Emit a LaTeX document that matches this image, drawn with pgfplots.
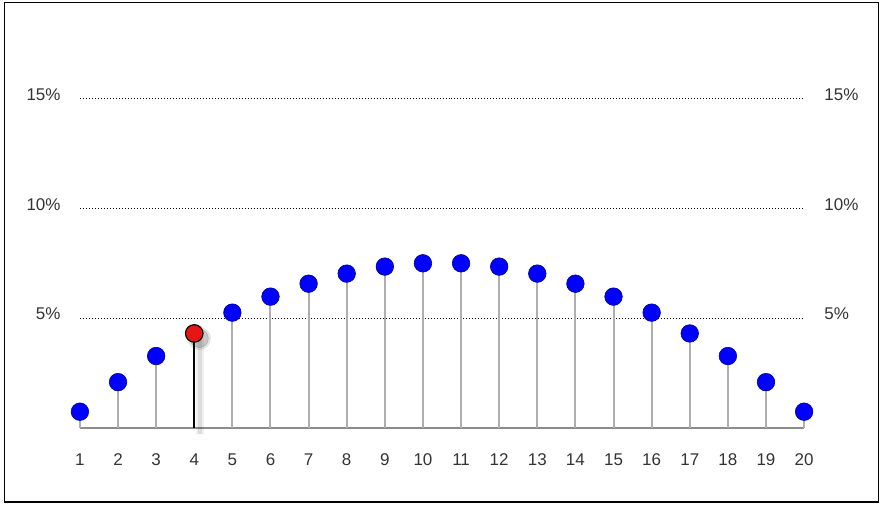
\documentclass[border=0pt]{standalone}
\usepackage{pgfplots}
\pgfplotsset{compat=1.18}
\usepackage{pgfplotstable}
\usepackage{fontspec}
\setmainfont{Liberation Sans}

\definecolor{stemgray}{HTML}{AEAEAE}
\definecolor{basegray}{HTML}{8C8C8C}
\definecolor{labelgray}{HTML}{333333}
\definecolor{dotblue}{HTML}{0000FF}
\definecolor{dotred}{HTML}{E81515}

% share of each outcome, in %
\pgfplotstableread{
x y
1 0.73
2 2.08
3 3.27
5 5.25
6 5.98
7 6.57
8 7.03
9 7.35
10 7.50
11 7.50
12 7.35
13 7.03
14 6.57
15 5.98
16 5.25
17 4.30
18 3.27
19 2.08
20 0.73
}\bluepts

\pgfplotstableread{
x y
4 4.30
}\redpt

\pgfplotsset{base/.style={
  scale only axis, width=362.5pt, height=164.6pt,
  xmin=1, xmax=20, ymin=0, ymax=15,
  clip=false,
  axis line style={draw=none},
  tick style={draw=none},
  ytick={5,10,15}, yticklabels={5\%,10\%,15\%},
  tick label style={font=\fontsize{8.5}{10}\selectfont, text=labelgray, inner sep=0pt},
  /pgf/number format/assume math mode=true,
}}

\begin{document}
\begin{tikzpicture}
\begin{axis}[base,
  ymajorgrids, grid style={black, line width=0.5pt, dash pattern=on 0.5pt off 1pt},
  xtick={1,...,20},
  yticklabel style={anchor=east, xshift=-9.5pt, yshift=2pt},
  xticklabel style={anchor=north, yshift=-13pt}]
\addplot[basegray, line width=1.2pt] coordinates {(1,0) (20,0)};
\addplot[ycomb, stemgray, line width=1pt] table[x=x,y=y] {\bluepts};
% soft shadow of the highlighted point
\addplot[ycomb, black, opacity=0.06, line width=4pt, xshift=3pt, yshift=-3pt] table[x=x,y=y] {\redpt};
\addplot[ycomb, black, opacity=0.08, line width=2pt, xshift=3pt, yshift=-3pt] table[x=x,y=y] {\redpt};
\addplot[ycomb, black, line width=0.8pt] table[x=x,y=y] {\redpt};
\addplot[only marks, mark=*, mark size=5.6pt, mark options={draw=none, fill=black, opacity=0.08}, xshift=2.5pt, yshift=-2.5pt] table[x=x,y=y] {\redpt};
\addplot[only marks, mark=*, mark size=4.6pt, mark options={draw=none, fill=black, opacity=0.15}, xshift=2.5pt, yshift=-2.5pt] table[x=x,y=y] {\redpt};
\addplot[only marks, mark=*, mark size=4.4pt, mark options={fill=dotblue, draw=blue!55!black, line width=0.3pt}] table[x=x,y=y] {\bluepts};
\addplot[only marks, mark=*, mark size=4.4pt, mark options={fill=dotred, draw=black, line width=0.6pt}] table[x=x,y=y] {\redpt};
\end{axis}
\begin{axis}[base,
  xtick=\empty,
  yticklabel pos=right,
  yticklabel style={anchor=west, xshift=10pt, yshift=2pt}]
\end{axis}
\draw[line width=0.6pt] ([shift={(-37.85pt,-37.2pt)}]current axis.south west) rectangle ([shift={(37.15pt,48.15pt)}]current axis.north east);
\path ([shift={(-40pt,-39.35pt)}]current axis.south west) rectangle ([shift={(40.5pt,49.5pt)}]current axis.north east);
\end{tikzpicture}
\end{document}
